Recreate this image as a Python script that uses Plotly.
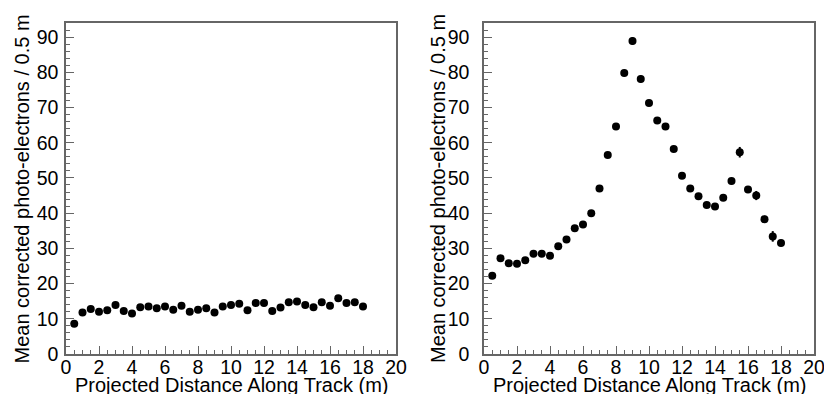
import plotly.graph_objects as go

# Bin centres (m)
distance = [0.5, 1.0, 1.5, 2.0, 2.5, 3.0, 3.5, 4.0, 4.5, 5.0, 5.5, 6.0,
            6.5, 7.0, 7.5, 8.0, 8.5, 9.0, 9.5, 10.0, 10.5, 11.0, 11.5, 12.0,
            12.5, 13.0, 13.5, 14.0, 14.5, 15.0, 15.5, 16.0, 16.5, 17.0, 17.5, 18.0]

# Left panel: mean corrected photo-electrons / 0.5 m
left_pe = [8.6, 11.8, 12.8, 12.0, 12.4, 13.9, 12.2, 11.5, 13.3, 13.5, 13.0, 13.5,
           12.6, 13.7, 12.0, 12.6, 13.0, 11.8, 13.5, 13.9, 14.3, 12.4, 14.5, 14.5,
           12.2, 13.2, 14.7, 14.9, 13.9, 13.3, 14.7, 13.7, 15.8, 14.5, 14.7, 13.5]
left_err = [0.3] * len(distance)

# Right panel
right_pe = [22.2, 27.2, 25.8, 25.6, 26.6, 28.5, 28.5, 27.9, 30.6, 32.5, 35.7, 36.8,
            40.0, 47.0, 56.5, 64.6, 79.8, 88.9, 78.1, 71.3, 66.3, 64.6, 58.2, 50.6,
            47.0, 44.8, 42.3, 41.9, 44.4, 49.1, 57.3, 46.7, 45.0, 38.3, 33.4, 31.5]
right_err = [0.5, 0.5, 0.5, 0.5, 0.5, 0.5, 0.5, 0.5, 0.5, 0.5, 0.5, 0.5,
             0.6, 0.6, 0.7, 0.7, 0.9, 1.1, 1.0, 0.8, 0.8, 0.8, 0.8, 0.7,
             0.7, 0.7, 0.7, 0.7, 0.8, 0.9, 1.5, 1.0, 1.3, 1.0, 1.5, 0.9]

x_title = "Projected Distance Along Track (m)"
y_title = "Mean corrected photo-electrons / 0.5 m"

FONT = "Liberation Sans, Arial, Helvetica, sans-serif"
FRAME = "#666666"
W, H = 824, 394

fig = go.Figure()
for i, (vals, errs) in enumerate([(left_pe, left_err), (right_pe, right_err)]):
    sfx = "" if i == 0 else "2"
    fig.add_trace(go.Scatter(
        x=distance, y=vals, mode="markers",
        marker=dict(color="black", size=8, symbol="circle"),
        error_y=dict(type="data", array=errs, visible=True, color="black",
                     thickness=2, width=0),
        xaxis="x" + sfx, yaxis="y" + sfx, showlegend=False,
    ))

xcommon = dict(range=[0, 20], dtick=2, tick0=0, ticks="inside", ticklen=8,
               tickwidth=1, tickcolor=FRAME, showline=True, linecolor=FRAME,
               linewidth=1.5, mirror=True, showgrid=False, zeroline=False,
               automargin=False, ticklabelstandoff=-5, ticklabeloverflow="allow",
               tickfont=dict(size=19.5, color="black", family=FONT),
               minor=dict(dtick=0.5, ticks="inside", ticklen=4.5,
                          tickcolor=FRAME, showgrid=False))
ycommon = dict(range=[0, 94], dtick=10, tick0=0, ticks="inside", ticklen=8,
               tickwidth=1, tickcolor=FRAME, showline=True, linecolor=FRAME,
               linewidth=1.5, mirror=True, showgrid=False, zeroline=False,
               automargin=False, ticklabeloverflow="allow",
               tickfont=dict(size=19.5, color="black", family=FONT),
               minor=dict(dtick=2, ticks="inside", ticklen=4.5,
                          tickcolor=FRAME, showgrid=False))

panels = [(66, 396, 21.5, 2), (484, 814, 438, 9)]

annotations = []
for (x0, x1, ytx, _) in panels:
    annotations.append(dict(text=x_title, xref="paper", yref="paper",
                            x=(x0 + x1) / 2 / W, y=(354 - 384.5) / 331,
                            xanchor="center", yanchor="middle", showarrow=False,
                            font=dict(size=20, color="black", family=FONT)))
    annotations.append(dict(text=y_title, xref="paper", yref="paper",
                            x=ytx / W, y=(354 - 189) / 331, textangle=-90,
                            xanchor="center", yanchor="middle", showarrow=False,
                            font=dict(size=20, color="black", family=FONT)))

fig.update_layout(
    width=W, height=H,
    margin=dict(l=0, r=0, t=23, b=40),
    paper_bgcolor="white", plot_bgcolor="white",
    font=dict(family=FONT, color="black"),
    xaxis=dict(domain=[66 / W, 396 / W], anchor="y", **xcommon),
    yaxis=dict(domain=[0, 1], anchor="x", ticklabelstandoff=panels[0][3], **ycommon),
    xaxis2=dict(domain=[484 / W, 814 / W], anchor="y2", **xcommon),
    yaxis2=dict(domain=[0, 1], anchor="x2", ticklabelstandoff=panels[1][3], **ycommon),
    annotations=annotations,
)

fig.write_html("out.html", config={"displayModeBar": False},
               post_script="document.body.style.margin='0';document.body.style.padding='0';"
                           "document.body.style.overflow='hidden';")
